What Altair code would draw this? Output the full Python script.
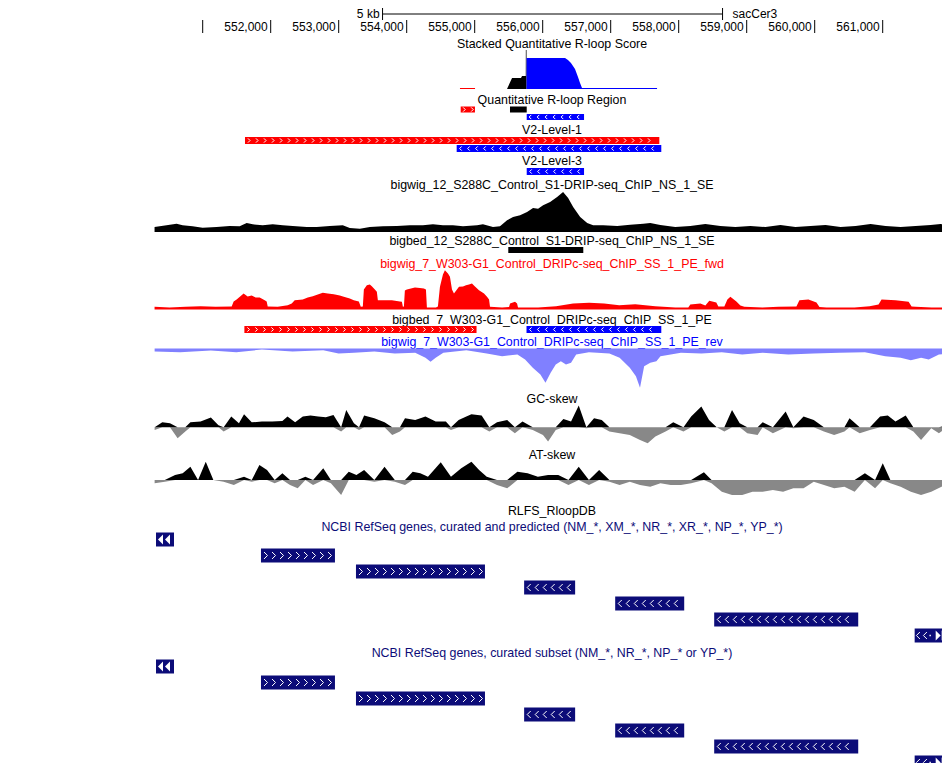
import altair as alt
import numpy as np
import pandas as pd

# ---------------- data (genomic positions in bp on chrom, signal values) ----------------
TICK_POS = [551000, 552000, 553000, 554000, 555000, 556000, 557000, 558000, 559000, 560000, 561000]
TICK_TEXT = ["", "552,000", "553,000", "554,000", "555,000", "556,000", "557,000",
             "558,000", "559,000", "560,000", "561,000"]
SCALE_BAR = [553645, 558645]
SCALE_TEXT = "5 kb"
ASSEMBLY = "sacCer3"

TRACK_TITLES = [
    "Stacked Quantitative R-loop Score",
    "Quantitative R-loop Region",
    "V2-Level-1",
    "V2-Level-3",
    "bigwig_12_S288C_Control_S1-DRIP-seq_ChIP_NS_1_SE",
    "bigbed_12_S288C_Control_S1-DRIP-seq_ChIP_NS_1_SE",
    "bigwig_7_W303-G1_Control_DRIPc-seq_ChIP_SS_1_PE_fwd",
    "bigbed_7_W303-G1_Control_DRIPc-seq_ChIP_SS_1_PE",
    "bigwig_7_W303-G1_Control_DRIPc-seq_ChIP_SS_1_PE_rev",
    "GC-skew",
    "AT-skew",
    "RLFS_RloopDB",
    "NCBI RefSeq genes, curated and predicted (NM_*, XM_*, NR_*, XR_*, NP_*, YP_*)",
    "NCBI RefSeq genes, curated subset (NM_*, NR_*, NP_* or YP_*)",
]

# Stacked quantitative R-loop score
SQ_RED_POS = [554783, 554784, 555004, 555005]
SQ_RED_VAL = [0, 1, 1, 0]
SQ_BLACK_POS = [555475, 555549, 555681, 555696, 555751, 555752, 555762, 555763]
SQ_BLACK_VAL = [0, 11, 11, 13, 13, 39, 39, 0]
SQ_BLUE_POS = [555762, 555763, 556328, 556372, 556416, 556475, 556519, 556549, 556578, 556608, 557681, 557682]
SQ_BLUE_VAL = [0, 31, 31, 29, 26, 20, 12, 6, 1, 1, 1, 0]

# bigwig_12 DRIP-seq
DRIP_POS = [550292, 550468, 550616, 550704, 550851, 550999, 551205, 551396, 551543, 551647,
            551735, 551882, 552030, 552177, 552324, 552530, 552677, 552869, 553060, 553163,
            553311, 553458, 553649, 553856, 554047, 554238, 554386, 554533, 554680, 554828,
            555034, 555122, 555269, 555372, 555476, 555564, 555667, 555770, 555858, 555932,
            556006, 556109, 556212, 556300, 556374, 556448, 556551, 556654, 556742, 556889,
            557096, 557287, 557479, 557582, 557729, 557950, 558171, 558392, 558612, 558833,
            559054, 559275, 559496, 559717, 559938, 560159, 560380, 560601, 560822, 561042,
            561263, 561484, 561705, 561852, 561985]
DRIP_VAL = [5, 6.7, 8.3, 6.7, 5.7, 4.3, 5, 6, 5.7, 9,
            7.7, 6.7, 7.7, 6.7, 6, 5, 5, 6, 6.7, 4,
            3.3, 5, 5.7, 6, 6.7, 6.7, 7.7, 6.7, 6.7, 5.7,
            6.7, 7.7, 5, 5.7, 11.7, 15, 16.7, 20, 24, 23.3,
            26.7, 30, 35, 40, 34, 25, 15, 9, 6.7, 6.7,
            6, 7.3, 8.3, 9, 7, 5, 6, 8, 6, 5,
            6, 5, 7, 5, 6, 7, 5, 6, 8, 6,
            5, 6, 7, 8, 6]

# bigwig_7 DRIPc-seq forward strand
FWD_POS = [550292, 550513, 550748, 550970, 551190, 551426, 551455, 551499, 551602, 551661,
           551720, 551779, 551838, 551912, 551941, 551956, 552103, 552250, 552309, 552353,
           552471, 552545, 552619, 552692, 552766, 552839, 552928, 553016, 553075, 553163,
           553222, 553296, 553325, 553355, 553370, 553414, 553458, 553487, 553532, 553561,
           553576, 553782, 553900, 553929, 553944, 553959, 553973, 554003, 554121, 554194,
           554253, 554283, 554297, 554430, 554459, 554489, 554533, 554562, 554607, 554636,
           554666, 554695, 554739, 554769, 554828, 554872, 554916, 554960, 555004, 555063,
           555137, 555181, 555211, 555225, 555402, 555505, 555520, 555593, 555623, 555637,
           555932, 556197, 556447, 556683, 556904, 557125, 557361, 557655, 557950, 558141,
           558171, 558318, 558392, 558450, 558553, 558583, 558671, 558716, 558760, 558848,
           558907, 558966, 559231, 559466, 559731, 559775, 559908, 560026, 560070, 560173,
           560585, 560807, 560939, 560983, 561190, 561381, 561425, 561484, 561720, 561985]
FWD_VAL = [2.7, 2, 2.7, 3.3, 2.7, 3, 8, 10, 16, 13,
           14, 12, 12, 9.3, 8, 3, 2.7, 4.3, 6, 9.3,
           10, 12, 13.3, 15, 16.7, 16, 15.3, 14, 12.7, 11,
           9.3, 8, 2.7, 3, 20, 24.3, 25, 23.3, 20, 17.7,
           9.3, 9.3, 8, 7.7, 2.7, 3, 19, 20, 22, 21.5,
           21, 20, 2, 2, 3, 22.7, 35, 39.3, 36, 32.7,
           20, 16, 20, 22.7, 23, 24.3, 25, 26, 23, 19.3,
           16, 12.7, 10, 2.7, 2, 2.5, 6, 7.7, 6, 2,
           2, 3.3, 6, 6.7, 6, 4.3, 5.3, 3.3, 2, 2,
           5, 6, 4, 8.7, 7, 3, 3, 10, 12.7, 8,
           4, 2.7, 2, 2.7, 3, 9.3, 10, 7, 2.5, 2,
           2, 3.3, 5, 10, 9.3, 7.7, 3, 2.7, 2, 2]

# bigwig_7 DRIPc-seq reverse strand (drawn downward)
REV_POS = [550293, 550669, 551120, 551495, 551871, 552322, 552773, 552998, 553224, 553524,
           553825, 554125, 554276, 554351, 554426, 554539, 554877, 555177, 555403, 555628,
           555741, 555854, 555966, 556041, 556117, 556192, 556267, 556342, 556417, 556492,
           556680, 556981, 557131, 557281, 557371, 557431, 557492, 557582, 557672, 557732,
           558033, 558333, 558634, 558934, 559235, 559611, 559986, 560362, 560738, 561038,
           561264, 561414, 561564, 561677, 561827, 561985]
REV_VAL = [3, 3.7, 2, 3.7, 1, 3, 1.7, 5, 4.3, 3,
           5, 4.3, 9.3, 13.3, 9.3, 4.3, 1.7, 5, 7.7, 6,
           11, 19.3, 26, 34.3, 24.3, 16, 12.7, 16, 14.3, 6,
           3.7, 5, 9.3, 19.3, 27.7, 39.3, 17.7, 14.3, 12.7, 7.7,
           4.3, 5, 3.7, 6, 4.3, 6, 5, 4.3, 3.7, 7.7,
           9.3, 11.7, 9.3, 11, 6, 5]

# GC skew
GC_POS = [550293, 550406, 550519, 550631, 550744, 550819, 550969, 551120, 551232, 551308,
          551420, 551533, 551608, 551721, 551871, 552021, 552172, 552247, 552359, 552472,
          552585, 552698, 552810, 552923, 553036, 553111, 553224, 553299, 553374, 553524,
          553674, 553787, 553900, 553975, 554125, 554276, 554426, 554576, 554651, 554764,
          554877, 554952, 555102, 555215, 555328, 555478, 555591, 555703, 555854, 556004,
          556079, 556192, 556304, 556417, 556530, 556642, 556755, 556868, 556981, 557131,
          557281, 557431, 557544, 557657, 557807, 557920, 558070, 558183, 558333, 558446,
          558559, 558671, 558784, 558897, 559009, 559160, 559235, 559385, 559573, 559686,
          559836, 559986, 560136, 560286, 560437, 560512, 560662, 560812, 560962, 561075,
          561188, 561338, 561451, 561564, 561714, 561827, 561940]
GC_VAL = [-2.7, 5, 4, -11, -4.3, 5, 5.7, 9.7, 2, -4.3,
          10.7, 4, 13, 5, 5.7, 5.7, 6.3, 10.7, 5, 10.7,
          11.7, 10.7, 10, 12.3, -4.3, 17.3, 4, -2.7, 11.7, 9,
          5, -7.7, -4.3, 9, 7.3, 10.7, 5.7, 5.7, -2.7, 7.3,
          10.7, 13, 11.7, -4.3, 5, 7.3, -6, 5.7, -2.7, -7.7,
          -14.3, -2.7, 8.3, 5.7, 21.7, -1, 9, 7.3, -4.3, -6,
          -7.7, -12.7, -16, -9.3, -4.3, 5, -4.3, 10.7, 20.7, 7.3,
          0, -4.3, 17.3, 4, -6, -7.7, 5, -6, 15.7, -1,
          10.7, 7.3, -4.3, -7.7, -4.3, 9, -6, -2.7, 10.7, 11.7,
          5.7, 11.7, -4.3, -12.7, -1, -6, 2.3]

# AT skew
AT_POS = [550293, 550443, 550594, 550706, 550819, 550932, 551045, 551157, 551308, 551458,
          551608, 551721, 551834, 551946, 552059, 552172, 552284, 552397, 552510, 552623,
          552773, 552885, 553036, 553148, 553261, 553374, 553524, 553674, 553825, 553975,
          554088, 554200, 554313, 554501, 554651, 554802, 554952, 555065, 555177, 555328,
          555478, 555628, 555778, 555929, 556079, 556229, 556379, 556530, 556680, 556830,
          556981, 557131, 557281, 557431, 557582, 557732, 557882, 558033, 558183, 558371,
          558483, 558634, 558784, 558934, 559085, 559235, 559385, 559535, 559686, 559836,
          559986, 560137, 560287, 560437, 560587, 560738, 560888, 561001, 561113, 561264,
          561414, 561564, 561714, 561865, 561977]
AT_VAL = [-3.3, -1.7, 5, 6.7, 13.3, 0, 18.3, 0, -1.7, -5,
          3.3, -1.7, 15, 10, -3.3, 6.7, -5, -8.3, 3.3, -5,
          11.7, -3.3, -15, 8.3, 5, 10, -1.7, 13.3, -1.7, -5,
          8.3, 6.7, 3.3, 17.7, 3.3, 11.7, 18.3, 10, 3.3, -5,
          -8.3, 8.3, 6.7, 3.3, 5, 5, -5, 13.3, -5, 10,
          -1.7, -5, -1.7, -5, -6.7, -3.3, -5, -5, -3.3, 7.7,
          -3.3, -11.7, -15, -15, -11.7, -11.7, -10, -11.7, -8.3, -8.3,
          -1.7, -5, -8.3, -6.7, -11.7, 6.7, -8.3, 16.7, -3.3, -6.7,
          -11.7, -15, -11.7, -6.7, -5]

# interval features
QRR_START = [554794, 555519, 555765]
QRR_END = [555004, 555765, 556608]
QRR_STRAND = ["+", ".", "-"]
V2L1_START = [551622, 554735]
V2L1_END = [557715, 557744]
V2L1_STRAND = ["+", "-"]
V2L3_START = [555765]
V2L3_END = [556608]
V2L3_STRAND = ["-"]
BB12_START = [555494]
BB12_END = [556597]
BB12_STRAND = ["."]
BB7_START = [551613, 555762]
BB7_END = [555027, 557744]
BB7_STRAND = ["+", "-"]
GENE_START = [551857, 553254, 555727, 557066, 558522]
GENE_END = [552945, 555151, 556477, 558081, 560640]
GENE_STRAND = ["+", "+", "-", "-", "-"]
MORE_LEFT = [550313, 550578]
MORE_RIGHT = [561470, 561985]

# ---------------- layout / style ----------------
RED, BLUE, BLACK = "#ff0000", "#0000ff", "#000000"
REVC, GRAY, NAVY = "#8080ff", "#888888", "#0c0c78"
STRAND_COLOR = {"+": RED, "-": BLUE, ".": BLACK}
LABEL_SIZE = 12.4

X0, X1 = 262.7, 874.7
XS = alt.Scale(domain=[552000, 561000], range=[X0, X1], nice=False, zero=False)
BP_PER_PX = 9000 / (X1 - X0)
CX = 544

CHEV_R = "M-0.45,-0.9L0.45,0L-0.45,0.9"
CHEV_L = "M0.45,-0.9L-0.45,0L0.45,0.9"
TRI_L = "M0.5,-1L-0.5,0L0.5,1Z"
TRI_R = "M-0.5,-1L0.5,0L-0.5,1Z"

layers = []


def xq(f="pos"):
    return alt.X(f + ":Q", scale=XS, axis=None)


def label(text, y, color=BLACK):
    layers.append(
        alt.Chart(pd.DataFrame({"t": [text]}))
        .mark_text(align="center", baseline="middle", color=color, fontSize=LABEL_SIZE)
        .encode(text="t:N", x=alt.value(CX), y=alt.value(y))
    )


def area(pos, val, color, domain, rng):
    df = pd.DataFrame({"pos": pos, "v": val})
    layers.append(
        alt.Chart(df)
        .mark_area(color=color, interpolate="linear", opacity=1)
        .encode(
            x=xq(),
            y=alt.Y("v:Q", scale=alt.Scale(domain=domain, range=rng, nice=False, zero=False), axis=None),
            y2=alt.Y2Datum(0),
        )
    )


def skew(pos, val, domain, rng):
    df = pd.DataFrame({"pos": pos, "v": val})
    base = alt.Chart(df).transform_calculate(p="max(datum.v, 0)", n="min(datum.v, 0)")
    sc = alt.Scale(domain=domain, range=rng, nice=False, zero=False)
    for fld, col in (("n", GRAY), ("p", BLACK)):
        layers.append(
            base.mark_area(color=col, interpolate="linear", opacity=1).encode(
                x=xq(), y=alt.Y(fld + ":Q", scale=sc, axis=None), y2=alt.Y2Datum(0)
            )
        )


def chevrons(starts, ends, strands, yc, size, off, step=8.0):
    rows = []
    for s, e, st in zip(starts, ends, strands):
        if st not in "+-":
            continue
        p = s + off * BP_PER_PX
        while p < e - (off - 1) * BP_PER_PX:
            rows.append({"pos": p, "st": st})
            p += step * BP_PER_PX
    if not rows:
        return
    layers.append(
        alt.Chart(pd.DataFrame(rows))
        .mark_point(filled=False, color="white", strokeWidth=1, opacity=1, size=size)
        .encode(
            x=xq(),
            y=alt.value(yc),
            shape=alt.Shape("st:N", scale=alt.Scale(domain=["+", "-"], range=[CHEV_R, CHEV_L]), legend=None),
        )
    )


def features(starts, ends, strands, top, bottom, color=None, chev_size=22, off=4.0):
    df = pd.DataFrame({"pos": starts, "end": ends, "st": strands})
    if color is None:
        col = alt.Color("st:N", scale=alt.Scale(domain=list(STRAND_COLOR), range=list(STRAND_COLOR.values())), legend=None)
    else:
        col = alt.value(color)
    layers.append(
        alt.Chart(df).mark_rect().encode(x=xq(), x2=alt.X2("end:Q"), y=alt.value(top), y2=alt.value(bottom), color=col)
    )
    chevrons(starts, ends, strands, (top + bottom) / 2, chev_size, off)


def glyphs(anchor, offsets_px, shape, yc, size, filled=True):
    df = pd.DataFrame({"pos": [anchor + o * BP_PER_PX for o in offsets_px]})
    layers.append(
        alt.Chart(df)
        .mark_point(shape=shape, filled=filled, color="white", opacity=1, size=size, strokeWidth=1)
        .encode(x=xq(), y=alt.value(yc))
    )


# ---- ruler ----
SB_Y = 6
sb = pd.DataFrame({"pos": [SCALE_BAR[0]], "end": [SCALE_BAR[1]]})
layers.append(alt.Chart(sb).mark_rule(color=BLACK).encode(x=xq(), x2=alt.X2("end:Q"), y=alt.value(SB_Y)))
sbe = pd.DataFrame({"pos": SCALE_BAR})
layers.append(alt.Chart(sbe).mark_rule(color=BLACK).encode(x=xq(), y=alt.value(0), y2=alt.value(SB_Y + 6)))
layers.append(
    alt.Chart(pd.DataFrame({"pos": [SCALE_BAR[0]], "t": [SCALE_TEXT]}))
    .mark_text(align="right", baseline="middle", dx=-3).encode(x=xq(), y=alt.value(SB_Y), text="t:N")
)
layers.append(
    alt.Chart(pd.DataFrame({"pos": [SCALE_BAR[1]], "t": [ASSEMBLY]}))
    .mark_text(align="left", baseline="middle", dx=10).encode(x=xq(), y=alt.value(SB_Y), text="t:N")
)
ticks = pd.DataFrame({"pos": TICK_POS, "t": TICK_TEXT})
layers.append(alt.Chart(ticks).mark_rule(color=BLACK).encode(x=xq(), y=alt.value(12), y2=alt.value(25)))
layers.append(
    alt.Chart(ticks).mark_text(align="right", baseline="middle", dx=-3).encode(x=xq(), y=alt.value(18.5), text="t:N")
)

# ---- stacked score ----
label(TRACK_TITLES[0], 36)
area(SQ_RED_POS, SQ_RED_VAL, RED, [0, 45], [81, 36])
area(SQ_BLACK_POS, SQ_BLACK_VAL, BLACK, [0, 45], [81, 36])
area(SQ_BLUE_POS, SQ_BLUE_VAL, BLUE, [0, 45], [81, 36])

# ---- quantitative R-loop region ----
label(TRACK_TITLES[1], 92)
features(QRR_START[:2], QRR_END[:2], QRR_STRAND[:2], 98.5, 104.5, off=3.5)
features(QRR_START[2:], QRR_END[2:], QRR_STRAND[2:], 106, 112, off=3.5)

# ---- V2 levels ----
label(TRACK_TITLES[2], 122)
features(V2L1_START[:1], V2L1_END[:1], V2L1_STRAND[:1], 129, 136)
features(V2L1_START[1:], V2L1_END[1:], V2L1_STRAND[1:], 137, 144)
label(TRACK_TITLES[3], 153)
features(V2L3_START, V2L3_END, V2L3_STRAND, 160, 167)

# ---- DRIP-seq ----
label(TRACK_TITLES[4], 177)
area(DRIP_POS, DRIP_VAL, BLACK, [0, 45], [224, 179])
label(TRACK_TITLES[5], 233)
features(BB12_START, BB12_END, BB12_STRAND, 239, 245)

# ---- DRIPc-seq ----
label(TRACK_TITLES[6], 256, RED)
area(FWD_POS, FWD_VAL, RED, [0, 45], [301.5, 256.5])
label(TRACK_TITLES[7], 312)
features(BB7_START, BB7_END, BB7_STRAND, 318, 325)
label(TRACK_TITLES[8], 334, BLUE)
area(REV_POS, REV_VAL, REVC, [0, 45], [340.5, 385.5])

# ---- skews ----
label(TRACK_TITLES[9], 390.5)
skew(GC_POS, GC_VAL, [-25, 25], [444.3, 394.3])
label(TRACK_TITLES[10], 447)
skew(AT_POS, AT_VAL, [-20, 20], [492, 452])

# ---- RLFS + genes ----
label(TRACK_TITLES[11], 503)
for ti, top0 in ((12, 524.5), (13, 651.5)):
    label(TRACK_TITLES[ti], top0 - 6 if ti == 12 else top0 - 6.5, NAVY)
    layers.append(
        alt.Chart(pd.DataFrame({"pos": [MORE_LEFT[0]], "end": [MORE_LEFT[1]]}))
        .mark_rect(color=NAVY).encode(x=xq(), x2=alt.X2("end:Q"), y=alt.value(top0), y2=alt.value(top0 + 14))
    )
    glyphs(MORE_LEFT[0], [4.5, 11.5], TRI_L, top0 + 7, 100)
    for gi in range(len(GENE_START)):
        t = top0 + 16 * (gi + 1)
        features([GENE_START[gi]], [GENE_END[gi]], [GENE_STRAND[gi]], t, t + 14, color=NAVY, chev_size=60, off=4.8)
    tr = top0 + 16 * 6
    layers.append(
        alt.Chart(pd.DataFrame({"pos": [MORE_RIGHT[0]], "end": [MORE_RIGHT[1]]}))
        .mark_rect(color=NAVY).encode(x=xq(), x2=alt.X2("end:Q"), y=alt.value(tr), y2=alt.value(tr + 14))
    )
    glyphs(MORE_RIGHT[0], [3.5, 10.5], CHEV_L, tr + 7, 60, filled=False)
    glyphs(MORE_RIGHT[0], [15.5], "square", tr + 7, 2)
    glyphs(MORE_RIGHT[0], [23.5, 29.5], TRI_R, tr + 7, 100)

chart = (
    alt.layer(*layers)
    .resolve_scale(y="independent")
    .properties(width=934, height=755, autosize=alt.AutoSizeParams(type="none"), padding=0, background="white")
    .configure_view(strokeWidth=0)
    .configure_text(font="Liberation Sans", fontSize=12)
)

chart.save("out.html", embed_options={"renderer": "svg", "actions": False})
